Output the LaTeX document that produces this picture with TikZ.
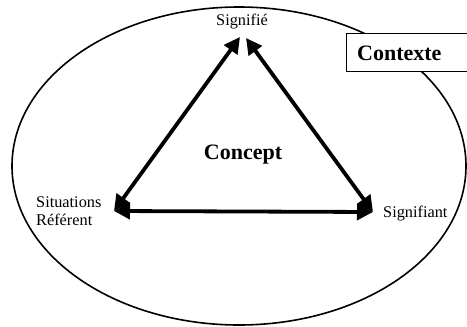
\documentclass[tikz,border=0pt]{standalone}
\usepackage{fontspec}
\setmainfont{Liberation Serif}
\usetikzlibrary{arrows.meta}
\tikzset{
  lbl/.style={inner sep=0pt, font=\fontsize{16.3}{18.5}\selectfont},
  big/.style={inner sep=0pt, font=\fontsize{22}{24}\selectfont\bfseries},
  link/.style={line width=3.8pt, {Triangle[length=16pt,width=16pt]}-{Triangle[length=16pt,width=16pt]}}
}
\begin{document}
\begin{tikzpicture}[x=1pt,y=-1pt]
\useasboundingbox (0,0) rectangle (467,327);
\fill[white] (0,0) rectangle (467,327);
\draw[line width=1.6pt] (239,166) ellipse [x radius=227, y radius=159];
\node[draw, line width=0.8pt, fill=white, minimum width=125pt, minimum height=38pt, anchor=north west, inner sep=0pt] (box) at (346,33) {};
\node[big, anchor=west] (ctx) at (357,53) {Contexte};
\node[lbl] (sgfe) at (242,22) {Signifié};
\node[lbl, align=left, anchor=west] (sit) at (36,211) {Situations\\Référent};
\node[lbl, anchor=west] (sgfa) at (383,214) {Signifiant};
\node[big] (concept) at (243,155) {Concept};
\coordinate (t1) at (240,37);
\coordinate (t2) at (246,38);
\coordinate (l) at (114,211);
\coordinate (r) at (373,212);
\draw[link] (t1) -- (l);
\draw[link] (t2) -- (r);
\draw[link] (l) -- (r);
\end{tikzpicture}
\end{document}
